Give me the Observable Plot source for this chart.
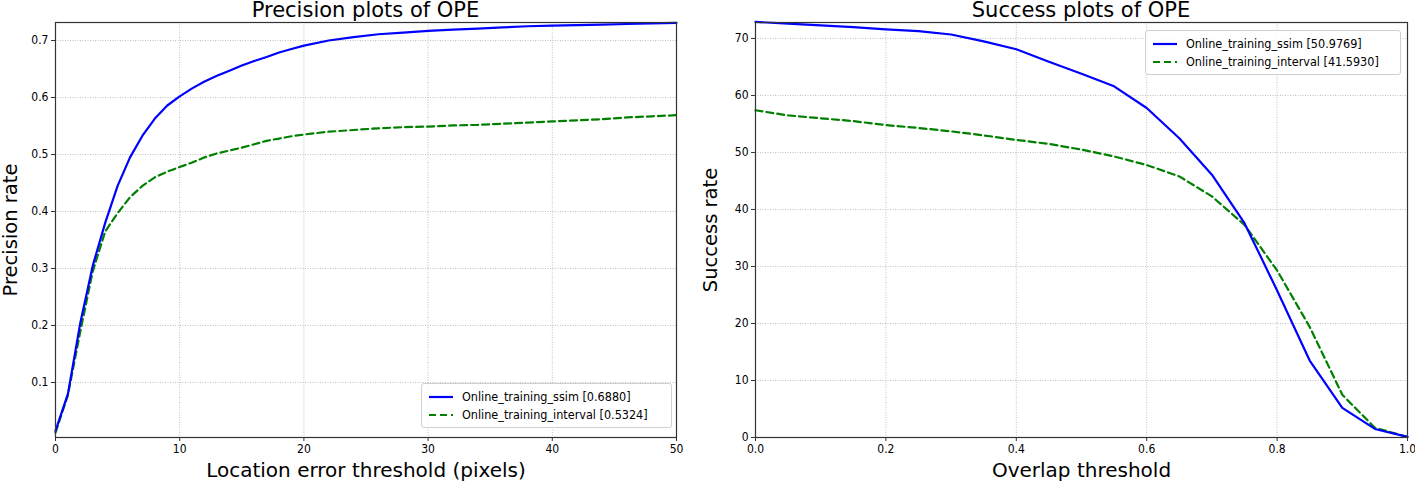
<!DOCTYPE html>
<html>
<head>
<meta charset="utf-8">
<script src="https://cdn.jsdelivr.net/npm/d3@7"></script>
<script src="https://cdn.jsdelivr.net/npm/@observablehq/plot@0.6"></script>
<style>
  html, body { margin: 0; padding: 0; background: #fff; }
  body { width: 1415px; height: 484px; overflow: hidden; position: relative;
         font-family: "DejaVu Sans", sans-serif; }
  .panel { position: absolute; top: 0; height: 484px; }
  .title { position: absolute; top: 0; height: 20px; line-height: 20px; text-align: center;
           font-size: 21px; color: #000; white-space: nowrap; font-family: "DejaVu Sans", sans-serif; }
  .plot { position: absolute; top: 20px; left: 0; }
  .legend { position: absolute; background: rgba(255,255,255,0.85); border: 1px solid #d0d0d0;
            border-radius: 3px; font-size: 12.5px; color: #000; box-sizing: border-box;
            font-family: "DejaVu Sans Condensed", "DejaVu Sans", sans-serif; font-stretch: condensed; }
  .legend .row { position: absolute; left: 0; height: 18px; line-height: 18px; white-space: nowrap; }
  .legend svg { position: absolute; top: 0; left: 6px; }
  .legend span { position: absolute; left: 40px; top: 0; }
</style>
</head>
<body>
<div id="root"></div>
<script>
// ---------- Data ----------
const seriesNames = ["Online_training_ssim", "Online_training_interval"];
const seriesColors = ["#0000ff", "#008000"];

// Precision plot (location error threshold in pixels)
const precThresholds = [0,1,2,3,4,5,6,7,8,9,10,11,12,13,14,15,16,17,18,19,20,22,24,26,28,30,32,34,36,38,40,42,44,46,48,50];
const precSsim = [0.015,0.080,0.205,0.305,0.380,0.445,0.495,0.533,0.563,0.586,0.602,0.616,0.628,0.638,0.647,0.656,0.664,0.671,0.679,0.685,0.691,0.700,0.706,0.711,0.714,0.717,0.719,0.721,0.723,0.725,0.726,0.727,0.728,0.729,0.730,0.731];
const precInterval = [0.012,0.078,0.190,0.295,0.365,0.397,0.425,0.445,0.460,0.470,0.478,0.486,0.495,0.502,0.507,0.512,0.518,0.524,0.528,0.532,0.535,0.540,0.543,0.546,0.548,0.549,0.551,0.552,0.554,0.556,0.558,0.560,0.562,0.565,0.567,0.569];
const precScores = ["0.6880", "0.5324"];
const precXTicks = [0,10,20,30,40,50];
const precYTicks = [0.1,0.2,0.3,0.4,0.5,0.6,0.7];

// Success plot (overlap threshold)
const succThresholds = [0,0.05,0.1,0.15,0.2,0.25,0.3,0.35,0.4,0.45,0.5,0.55,0.6,0.65,0.7,0.75,0.8,0.85,0.9,0.95,1.0];
const succSsim = [72.9,72.6,72.3,72.0,71.6,71.3,70.7,69.5,68.1,65.9,63.8,61.6,57.8,52.5,46.1,37.6,25.8,13.5,5.2,1.5,0.1];
const succInterval = [57.4,56.5,56.0,55.5,54.8,54.3,53.7,53.0,52.2,51.5,50.5,49.3,47.8,45.8,42.3,37.3,29.3,19.4,7.5,1.7,0.1];
const succScores = ["50.9769", "41.5930"];
const succXTicks = [0,0.2,0.4,0.6,0.8,1.0];
const succYTicks = [0,10,20,30,40,50,60,70];

// ---------- Build ----------
function rows(xs, a, b) {
  const out = [];
  xs.forEach((x, i) => out.push({x, y: a[i], s: seriesNames[0]}));
  xs.forEach((x, i) => out.push({x, y: b[i], s: seriesNames[1]}));
  return out;
}

function panel(cfg) {
  const div = document.createElement("div");
  div.className = "panel";
  div.style.left = cfg.left + "px";
  div.style.width = cfg.width + "px";

  const t = document.createElement("div");
  t.className = "title";
  t.style.left = cfg.margin.left + "px";
  t.style.width = (cfg.width - cfg.margin.left - cfg.margin.right) + "px";
  t.textContent = cfg.title;
  div.appendChild(t);

  const data = rows(cfg.xs, cfg.a, cfg.b);
  const gridStyle = {stroke: "#b0b0b0", strokeOpacity: 1, strokeWidth: 0.8, strokeDasharray: "1,1.5"};
  const svg = Plot.plot({
    width: cfg.width,
    height: 464,
    marginTop: cfg.margin.top,
    marginBottom: cfg.margin.bottom,
    marginLeft: cfg.margin.left,
    marginRight: cfg.margin.right,
    style: {background: "transparent", overflow: "visible",
            fontFamily: "'DejaVu Sans Condensed', 'DejaVu Sans', sans-serif", fontStretch: "condensed"},
    x: {domain: cfg.xDomain},
    y: {domain: cfg.yDomain},
    marks: [
      Plot.gridX(cfg.xTicks, gridStyle),
      Plot.gridY(cfg.yTicks, gridStyle),
      Plot.line(data.filter(d => d.s === seriesNames[1]), {x: "x", y: "y", stroke: seriesColors[1], strokeWidth: 2.2, strokeDasharray: "7,4"}),
      Plot.line(data.filter(d => d.s === seriesNames[0]), {x: "x", y: "y", stroke: seriesColors[0], strokeWidth: 2.2}),
      Plot.frame({stroke: "#333", strokeWidth: 1.2}),
      Plot.axisX(cfg.xTicks, {tickSize: 4, tickPadding: 3, fontSize: 12, tickFormat: cfg.xFmt, label: null, stroke: "#333", color: "#000"}),
      Plot.axisY(cfg.yTicks, {tickSize: 4, tickPadding: 3, fontSize: 12, tickFormat: cfg.yFmt, label: null, stroke: "#333", color: "#000"}),
      Plot.text([cfg.xLabel], {frameAnchor: "bottom", dy: 39, fontSize: 20, fontFamily: "DejaVu Sans", fill: "#000", text: d => d}),
      Plot.text([cfg.yLabel], {frameAnchor: "left", textAnchor: "middle", dx: -45, rotate: -90, fontSize: 19.5, fontFamily: "DejaVu Sans", fill: "#000", text: d => d})
    ]
  });
  svg.classList.add("plot");
  svg.querySelectorAll("text").forEach(el => {
    if (el.closest("g[font-family='DejaVu Sans']")) el.style.fontStretch = "normal";
  });
  div.appendChild(svg);

  // legend overlay
  const lg = document.createElement("div");
  lg.className = "legend";
  lg.style.left = cfg.legend.left + "px";
  lg.style.top = cfg.legend.top + "px";
  lg.style.width = cfg.legend.width + "px";
  lg.style.height = "45px";
  seriesNames.forEach((name, i) => {
    const r = document.createElement("div");
    r.className = "row";
    r.style.top = (4 + i * 18) + "px";
    r.innerHTML = `<svg width="26" height="18"><line x1="1" x2="25" y1="9" y2="9" stroke="${seriesColors[i]}" stroke-width="2.2" ${i === 1 ? 'stroke-dasharray="7,4"' : ''}/></svg><span>${name} [${cfg.scores[i]}]</span>`;
    lg.appendChild(r);
  });
  div.appendChild(lg);
  return div;
}

const root = document.getElementById("root");
root.appendChild(panel({
  left: 0, width: 700,
  margin: {top: 2, bottom: 47, left: 55, right: 24},
  title: "Precision plots of OPE",
  xs: precThresholds, a: precSsim, b: precInterval,
  xDomain: [0, 50], yDomain: [0.0035, 0.7316],
  xTicks: precXTicks, yTicks: precYTicks,
  xFmt: d => String(d), yFmt: d => d.toFixed(1),
  xLabel: "Location error threshold (pixels)", yLabel: "Precision rate",
  scores: precScores,
  legend: {left: 421, top: 383, width: 251}
}));
root.appendChild(panel({
  left: 700, width: 715,
  margin: {top: 2, bottom: 47, left: 55, right: 8},
  title: "Success plots of OPE",
  xs: succThresholds, a: succSsim, b: succInterval,
  xDomain: [0, 1], yDomain: [0, 72.8],
  xTicks: succXTicks, yTicks: succYTicks,
  xFmt: d => d.toFixed(1), yFmt: d => String(d),
  xLabel: "Overlap threshold", yLabel: "Success rate",
  scores: succScores,
  legend: {left: 445, top: 30, width: 256}
}));
</script>
</body>
</html>
